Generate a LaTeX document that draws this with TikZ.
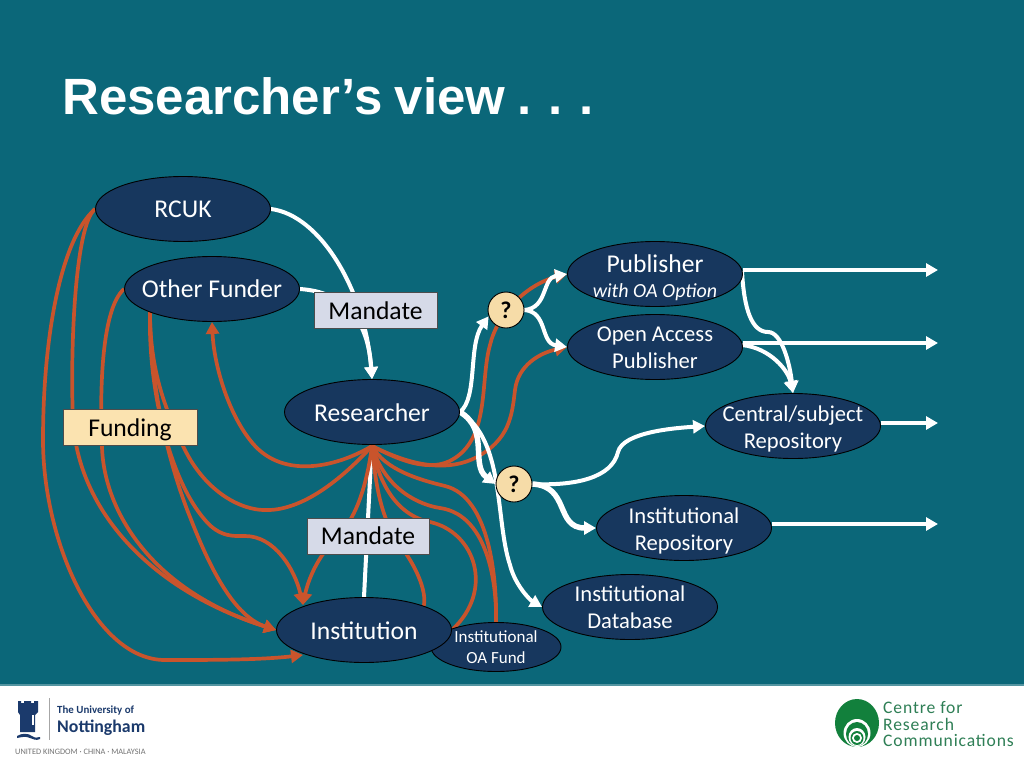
\documentclass[tikz,border=0pt]{standalone}
\usepackage{fontspec}
\setmainfont{Carlito}
\newfontfamily\titlefont{Liberation Sans}
\newfontfamily\crcfont[LetterSpace=5]{Carlito}
\usetikzlibrary{shapes.geometric,arrows.meta,backgrounds}
\definecolor{bgteal}{HTML}{0B6779}
\definecolor{navy}{HTML}{17375E}
\definecolor{rust}{HTML}{C9542C}
\definecolor{boxgrey}{HTML}{D6DAE8}
\definecolor{boxsand}{HTML}{FBE3B0}
\definecolor{qsand}{HTML}{F6DCA8}
\definecolor{nottblue}{HTML}{1B3A6C}
\definecolor{crcgreen}{HTML}{12803C}
\definecolor{crctext}{HTML}{2F7F56}
\newcommand\dn[2]{\raisebox{-#1pt}[\height][\depth]{#2}}
\tikzset{
  blob/.style={ellipse,draw=black,line width=0.9pt,fill=navy,text=white,inner xsep=-50pt,inner ysep=-25pt,
    minimum width=175pt,minimum height=65pt,align=center,font=\fontsize{25.6}{27}\selectfont},
  twoline/.style={blob,font=\fontsize{22.6}{27}\selectfont},
  smallblob/.style={blob,minimum width=130pt,minimum height=49pt,font=\fontsize{17}{21}\selectfont},
  tagbox/.style={rectangle,draw=black!70,line width=0.9pt,text=black,inner sep=0pt,font=\fontsize{25.6}{27}\selectfont},
  query/.style={circle,draw=black,line width=0.9pt,fill=qsand,text=black,minimum size=36pt,inner sep=0pt,font=\fontsize{24}{27}\selectfont\bfseries},
  redline/.style={draw=rust,line width=3.7pt},
  whiteline/.style={draw=white,line width=4pt},
  thickwhite/.style={draw=white,line width=5.5pt},
  tip/.style={-{Triangle[length=12pt,width=13pt]}}
}
\begin{document}
\begin{tikzpicture}[x=1pt,y=-1pt]
\useasboundingbox (0,0) rectangle (1024,768);
\begin{scope}[on background layer]
\fill[bgteal] (0,0) rectangle (1024,768);
\fill[white] (0,685) rectangle (1024,768);
\fill[black!0!bgteal!70!white] (0,684) rectangle (1024,686);
\end{scope}

\node[anchor=base west,text=white,font=\titlefont\fontsize{51}{54}\selectfont\bfseries,inner sep=0pt] (title) at (62,114) {\spaceskip=.24em Researcher’s view . . .};

\node[blob] (rcuk) at (183,209) {RCUK};
\node[blob] (funder) at (212,289) {Other Funder};
\node[blob] (res) at (372,412) {\dn{1}{Researcher}};
\node[smallblob] (fund) at (496,647) {Institutional\\OA Fund};
\node[blob] (inst) at (364,630) {\dn{1}{Institution}};
\node[blob] (pub) at (655,274) {\dn{4}{Publisher}\\[-1pt]\dn{3}{\fontsize{20}{22}\selectfont\itshape with OA Option}};
\node[twoline] (oap) at (655,347) {\dn{1}{Open Access}\\\dn{1}{Publisher}};
\node[twoline] (cen) at (793,426) {\dn{3}{Central/subject}\\\dn{3}{Repository}};
\node[twoline] (irep) at (684,528) {\dn{3}{Institutional}\\\dn{3}{Repository}};
\node[twoline] (idb) at (630,607) {Institutional\\Database};
\node[tagbox,fill=boxgrey,minimum width=123pt,minimum height=36pt] (m1) at (375.5,310) {\dn{1}{Mandate}};
\node[tagbox,fill=boxgrey,minimum width=122pt,minimum height=36pt] (m2) at (368,536) {Mandate};
\node[tagbox,fill=boxsand,minimum width=134pt,minimum height=36pt] (fbox) at (130,427) {\dn{2.5}{Funding}};
\node[query] (q1) at (506,310) {?};
\node[query] (q2) at (514,484) {?};
\coordinate (hub) at (372,446);
\coordinate (f2) at (150,312);
\coordinate (pubr) at (742,271);
\coordinate (oapr) at (742,345);

\begin{scope}[on background layer]
% white: institution up to researcher
\draw[whiteline] (inst.north) -- (371,459);
% white into researcher
\draw[whiteline,tip] (rcuk.east) .. controls (320,215) and (365,290) .. (res.north);
\draw[whiteline,tip] (funder.east) .. controls (345,292) and (368,320) .. (res.north);
% red: funder/rcuk
\draw[redline,tip] (hub) .. controls (335,468) and (280,480) .. (250,440) .. controls (228,412) and (214,365) .. (funder.south);
\draw[redline] (f2) .. controls (150,370) and (165,410) .. (185,450) .. controls (205,490) and (240,512) .. (270,510) .. controls (310,508) and (350,470) .. (hub);
\draw[redline,tip] (f2) .. controls (148,390) and (170,480) .. (205,520) .. controls (220,538) and (235,536) .. (245,536) .. controls (275,536) and (295,570) .. (303,605);
\draw[redline,tip] (f2) .. controls (150,400) and (175,480) .. (190,517) .. controls (205,555) and (230,615) .. (inst.west);
\draw[redline,tip] (funder.west) .. controls (100,310) and (100,400) .. (102,447) .. controls (104,510) and (150,590) .. (inst.west);
\draw[redline,tip] (rcuk.west) .. controls (75,225) and (70,350) .. (73,420) .. controls (78,510) and (150,590) .. (inst.west);
\draw[redline,tip] (rcuk.west) .. controls (60,240) and (43,340) .. (43,440) .. controls (43,540) and (95,660) .. (165,660) .. controls (210,660) and (260,660) .. (303,655);
% red: institution fan
\draw[redline,tip] (hub) .. controls (366,490) and (355,520) .. (335,540) .. controls (318,556) and (308,580) .. (303,605);
\draw[redline] (hub) .. controls (376,490) and (382,520) .. (400,545) .. controls (415,565) and (427,590) .. (inst.22);
\draw[redline] (hub) .. controls (378,480) and (395,515) .. (430,522) .. controls (475,532) and (495,590) .. (inst.east);
\draw[redline] (hub) .. controls (385,490) and (420,505) .. (440,508) .. controls (490,515) and (497,590) .. (fund.north);
\draw[redline] (hub) .. controls (385,470) and (420,480) .. (445,486) .. controls (490,497) and (497,580) .. (fund.north);
% red: publishers
\draw[redline,tip] (hub) .. controls (395,458) and (430,475) .. (455,458) .. controls (490,435) and (480,380) .. (490,345) .. controls (497,315) and (525,285) .. (pub.west);
\draw[redline,tip] (hub) .. controls (400,460) and (440,475) .. (475,458) .. controls (510,440) and (512,415) .. (515,390) .. controls (518,365) and (540,353) .. (oap.west);
% white: researcher outward
\draw[whiteline,tip] (res.east) .. controls (478,398) and (468,345) .. (q1.200);
\draw[whiteline,tip] (res.east) .. controls (505,440) and (495,520) .. (510,565) .. controls (515,585) and (530,600) .. (idb.west);
\draw[thickwhite,tip] (res.east) .. controls (490,430) and (470,465) .. (q2.west);
% white: question marks onward
\draw[whiteline,tip] (q1.east) .. controls (548,308) and (542,278) .. (pub.west);
\draw[whiteline,tip] (q1.east) .. controls (548,312) and (540,343) .. (oap.west);
\draw[whiteline,tip] (q2.east) .. controls (575,486) and (612,478) .. (618,452) .. controls (623,432) and (675,428) .. (cen.west);
\draw[thickwhite,tip] (q2.east) .. controls (570,486) and (555,528) .. (irep.west);
% white: right side
\draw[whiteline,tip] (pub.east |- 0,270) -- (938,270);
\draw[whiteline,tip] (oap.east |- 0,343) -- (938,343);
\draw[whiteline,tip] (cen.east |- 0,423) -- (938,423);
\draw[whiteline,tip] (irep.east |- 0,524) -- (938,524);
\draw[whiteline,tip] (pubr) .. controls (744,310) and (752,332) .. (768,332) .. controls (782,332) and (790,365) .. (cen.north);
\draw[whiteline,tip] (oapr) .. controls (770,348) and (788,370) .. (cen.north);
\end{scope}

% Nottingham logo
\fill[nottblue] (17,736) .. controls (22,733) and (28,733) .. (32,736) .. controls (35,738) and (37,738) .. (40,737) -- (40,739) .. controls (36,741) and (33,739) .. (30,738) .. controls (26,736) and (22,737) .. (17,738) -- cycle;
\fill[nottblue] (18,701) -- (21,701) -- (21,703) -- (24,703) -- (24,701) -- (31,701) -- (31,703) -- (34,703) -- (34,701) -- (38,701) -- (38,712) -- (35,715) -- (35,732) -- (20,732) -- (20,715) -- (18,712) -- cycle;
\fill[white] (32,715) rectangle (33.5,725);
\draw[black!35,line width=1pt] (49,698) -- (49,740);
\node[anchor=base west,inner sep=0pt,text=nottblue,font=\fontsize{10.9}{11}\selectfont\bfseries] (ntop) at (57,713) {The University of};
\node[anchor=base west,inner sep=0pt,text=nottblue,font=\fontsize{17.8}{18}\selectfont\bfseries] (nname) at (57,732) {Nottingham};
\node[anchor=base west,inner sep=0pt,text=black!55,font=\fontsize{8.3}{9}\selectfont] (nsub) at (15,754) {UNITED KINGDOM · CHINA · MALAYSIA};

% CRC logo
\fill[crcgreen] (857,723) ellipse [x radius=22,y radius=24];
\fill[white] (857,733) ellipse [x radius=13.5,y radius=14];
\fill[crcgreen] (857,734) ellipse [x radius=11,y radius=12];
\fill[white] (857,737) ellipse [x radius=8.5,y radius=9];
\fill[crcgreen] (857,738) ellipse [x radius=6.5,y radius=7];
\fill[white] (857,738) circle (5);
\fill[crcgreen] (857,738) circle (3);
\node[anchor=base west,inner sep=0pt,text=crctext,font=\crcfont\fontsize{17.6}{17}\selectfont] (c1) at (883,713) {Centre for};
\node[anchor=base west,inner sep=0pt,text=crctext,font=\crcfont\fontsize{17.6}{17}\selectfont] (c2) at (883,730) {Research};
\node[anchor=base west,inner sep=0pt,text=crctext,font=\crcfont\fontsize{17.6}{17}\selectfont] (c3) at (883,746) {Communications};
\end{tikzpicture}
\end{document}
